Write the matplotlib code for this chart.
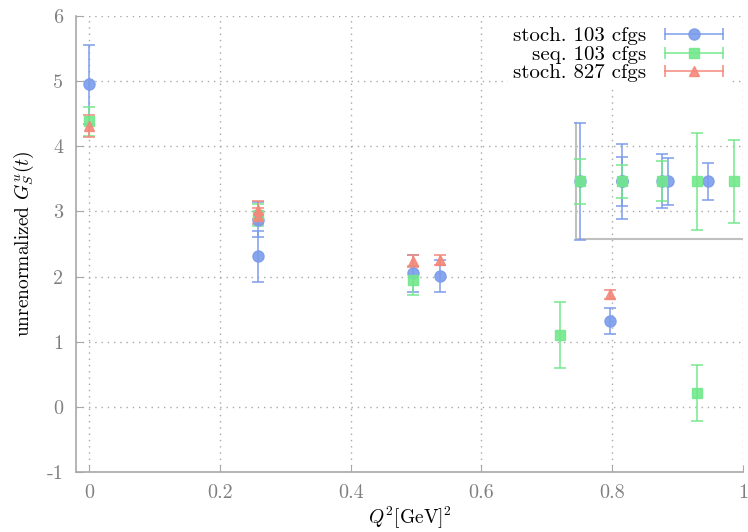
import matplotlib
matplotlib.use("Agg")
import matplotlib.pyplot as plt
from matplotlib.lines import Line2D
from matplotlib.legend_handler import HandlerBase
from matplotlib.ticker import FuncFormatter

plt.rcParams["font.family"] = "serif"
plt.rcParams["font.serif"] = ["cmr10", "DejaVu Serif"]
plt.rcParams["mathtext.fontset"] = "cm"
plt.rcParams["axes.unicode_minus"] = False

# stoch. 103 cfgs
stoch_x = [0.0, 0.259, 0.259, 0.496, 0.537, 0.797]
stoch_y = [4.95, 2.31, 2.87, 2.05, 2.01, 1.32]
stoch_err = [0.61, 0.39, 0.27, 0.28, 0.25, 0.20]

# seq. 103 cfgs
seq_x = [0.0, 0.259, 0.496, 0.720, 0.930]
seq_y = [4.38, 2.95, 1.94, 1.10, 0.21]
seq_err = [0.23, 0.17, 0.22, 0.51, 0.43]

# stoch. 827 cfgs
s827_x = [0.0, 0.259, 0.259, 0.496, 0.537, 0.797]
s827_y = [4.31, 3.02, 2.93, 2.24, 2.25, 1.73]
s827_err = [0.17, 0.14, 0.12, 0.09, 0.08, 0.07]

# small overlay panel (points drawn at a common level)
ov_level = 3.46
ov_stoch_x = [0.750, 0.815, 0.815, 0.876, 0.886, 0.947]
ov_stoch_err = [0.895, 0.576, 0.38, 0.414, 0.362, 0.287]
ov_seq_x = [0.750, 0.815, 0.876, 0.929, 0.986]
ov_seq_err = [0.342, 0.256, 0.307, 0.746, 0.634]
ov_frame_x = [0.7445, 0.7445, 1.0]
ov_frame_y = [4.36, 2.57, 2.57]

blue = "#7b9cec"
green = "#72e88c"
red = "#f4877a"


class HorizontalErrHandler(HandlerBase):
    """legend sample drawn as a horizontal error bar with end caps"""

    def create_artists(self, legend, orig_handle, xdescent, ydescent,
                       width, height, fontsize, trans):
        data_line = orig_handle[0]
        c = data_line.get_color()
        y = height / 2 - ydescent
        x0, x1 = -xdescent, width - xdescent
        bar = Line2D([x0, x1], [y, y], color=c, lw=1.2, alpha=0.9)
        caps = Line2D([x0, x1], [y, y], linestyle="none", marker="|",
                      markersize=9, mew=1.2, color=c, alpha=0.9)
        mk = Line2D([(x0 + x1) / 2], [y], linestyle="none",
                    marker=data_line.get_marker(),
                    markersize=data_line.get_markersize(), color=c, alpha=0.9)
        for a in (bar, caps, mk):
            a.set_transform(trans)
        return [bar, caps, mk]


fig = plt.figure(figsize=(7.48, 5.32), dpi=100)
ax = fig.add_axes([0.1016, 0.1128, 0.8917, 0.8572])

kw = dict(linestyle="none", capsize=4.5, elinewidth=1.2, capthick=1.2, alpha=0.9)

ax.plot(ov_frame_x, ov_frame_y, color="#c0c0c0", lw=1.5, zorder=2)
ax.errorbar(ov_stoch_x, [ov_level] * len(ov_stoch_x), yerr=ov_stoch_err,
            color=blue, marker="o", markersize=8, zorder=3, **kw)
ax.errorbar(ov_seq_x, [ov_level] * len(ov_seq_x), yerr=ov_seq_err,
            color=green, marker="s", markersize=7.5, zorder=3, **kw)

h1 = ax.errorbar(stoch_x, stoch_y, yerr=stoch_err, color=blue, marker="o",
                 markersize=8, label="stoch. 103 cfgs", zorder=3, **kw)
h2 = ax.errorbar(seq_x, seq_y, yerr=seq_err, color=green, marker="s",
                 markersize=7.5, label="seq. 103 cfgs", zorder=3, **kw)
h3 = ax.errorbar(s827_x, s827_y, yerr=s827_err, color=red, marker="^",
                 markersize=6.5, label="stoch. 827 cfgs", zorder=3, **kw)

ax.set_xlim(-0.02, 1.0)
ax.set_ylim(-1, 6)
ax.set_xticks([0, 0.2, 0.4, 0.6, 0.8, 1])
ax.set_yticks(range(-1, 7))
ax.xaxis.set_major_formatter(FuncFormatter(lambda v, p: "%g" % v))
ax.yaxis.set_major_formatter(FuncFormatter(lambda v, p: "%g" % v))

ax.grid(True, color="#a8a8a8", linestyle=(0, (1, 3.5)), linewidth=1.0)
for side in ["top", "right"]:
    ax.spines[side].set_visible(False)
for side in ["left", "bottom"]:
    ax.spines[side].set_color("#a8a8a8")
    ax.spines[side].set_linewidth(1.2)
ax.tick_params(direction="in", length=5, color="#a8a8a8", labelcolor="#808080",
               labelsize=14.5, pad=9)

ax.set_xlabel(r"$Q^2$[GeV]$^2$", fontsize=14, labelpad=2)
ax.set_ylabel(r"unrenormalized $G_S^u(t)$", fontsize=14, labelpad=8)

hmap = {h: HorizontalErrHandler() for h in (h1, h2, h3)}
leg = ax.legend(handles=[h1, h2, h3], handler_map=hmap, loc="upper right",
                bbox_to_anchor=(0.9895, 1.004),
                markerfirst=False, fontsize=15, frameon=True, fancybox=False,
                borderaxespad=0.35, handlelength=2.8, handletextpad=0.9,
                labelspacing=0.0, borderpad=0.25)
leg.get_frame().set_edgecolor("none")
leg.get_frame().set_facecolor("white")
leg.get_frame().set_alpha(1)
for t in leg.get_texts():
    t.set_ha("right")
leg._legend_box.align = "right"

fig.savefig("out.png", dpi=100)
